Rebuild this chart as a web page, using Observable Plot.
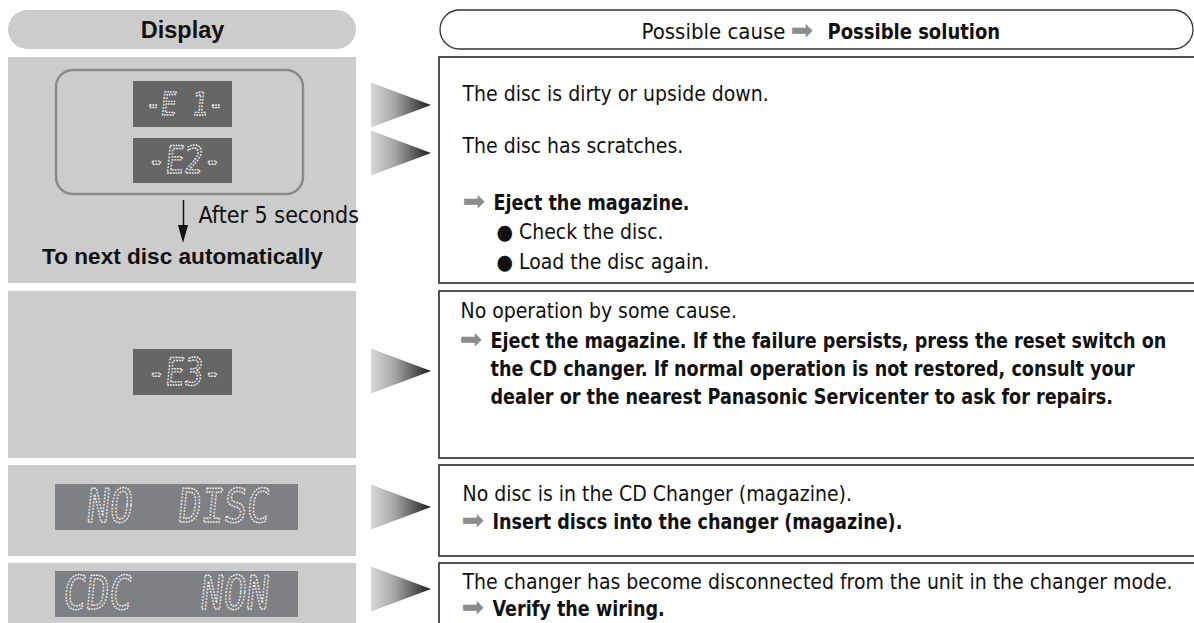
<!DOCTYPE html>
<html><head><meta charset="utf-8">
<script src="https://cdn.jsdelivr.net/npm/d3@7"></script>
<script src="https://cdn.jsdelivr.net/npm/@observablehq/plot@0.6"></script>
<style>html,body{margin:0;padding:0;background:#fff;overflow:hidden}</style>
</head><body><div id="chart"></div>
<script>
// ---------------- data ----------------
const headers = ["Display", "Possible cause", "Possible solution"];
const headerArrow = "➡";
const displays = ["-E 1-", "-E2-", "-E3-", "NO  DISC", "CDC   NON"];
const timerNote = ["After 5 seconds", "To next disc automatically"];
const causes = [
  "The disc is dirty or upside down.",
  "The disc has scratches.",
  "No operation by some cause.",
  "No disc is in the CD Changer (magazine).",
  "The changer has become disconnected from the unit in the changer mode."
];
const solutions = [
  ["Eject the magazine."],
  ["Eject the magazine. If the failure persists, press the reset switch on",
   "the CD changer. If normal operation is not restored, consult your",
   "dealer or the nearest Panasonic Servicenter to ask for repairs."],
  ["Insert discs into the changer (magazine)."],
  ["Verify the wiring."]
];
const checks = ["Check the disc.", "Load the disc again."];

// ---------------- layout ----------------
const W = 1194, H = 623;
const narrow = '"Liberation Sans Narrow", "Arial Narrow", "DejaVu Sans Condensed", sans-serif';
const wide = '"Liberation Sans", Arial, sans-serif';
const rowY = [[57, 283], [291, 458], [465, 556], [563, 630]];
const leftPanels = rowY.map(([y1, y2]) => ({x1: 8, x2: 356, y1, y2}));
const rightBoxes = rowY.map(([y1, y2]) => ({x1: 439, x2: 1200, y1, y2}));
const headerPills = [
  {x1: 8, x2: 356, y1: 10, y2: 49, fill: "#cccccc", stroke: "none"},
  {x1: 440, x2: 1193, y1: 10, y2: 49, fill: "#ffffff", stroke: "#333333"}
];
const lcdLayout = [
  {x1: 133, x2: 232, y1: 81, y2: 127, tx: 184, fs: 26, c: "#666666"},
  {x1: 133, x2: 232, y1: 138, y2: 183, tx: 184, fs: 31, c: "#666666"},
  {x1: 133, x2: 232, y1: 349, y2: 395, tx: 184, fs: 31, c: "#666666"},
  {x1: 55, x2: 298, y1: 484, y2: 530, tx: 178, fs: 38, c: "#7f8084"},
  {x1: 55, x2: 298, y1: 571, y2: 617, tx: 166, fs: 38, c: "#7f8084"}
];
const lcd = displays.map((t, i) => ({text: t, ...lcdLayout[i], ty: (lcdLayout[i].y1 + lcdLayout[i].y2) / 2}));
const arrowCenters = [105, 153, 371, 507, 589];
const triangles = arrowCenters.flatMap((cy, k) => [
  {k, x: 371, y1: cy - 22.5, y2: cy + 22.5},
  {k, x: 431, y1: cy, y2: cy}
]);
const causeLayout = [{x: 462, y: 100}, {x: 462, y: 152}, {x: 460, y: 317}, {x: 462, y: 500}, {x: 462, y: 588}];
const causeTexts = causes.map((text, i) => ({text, ...causeLayout[i]}));
const solLayout = [{x: 493, y: [209]}, {x: 490, y: [347, 375, 403]}, {x: 492, y: [528]}, {x: 492, y: [615]}];
const solTexts = solutions.flatMap((lines, i) => lines.map((text, j) => ({text, x: solLayout[i].x, y: solLayout[i].y[j]})));
const solArrows = solutions.map((l, i) => ({text: headerArrow, x: solLayout[i].x - 31, y: solLayout[i].y[0]}));
const checkTexts = checks.map((t, i) => ({text: "● " + t, x: 496, y: [238, 268][i]}));
const downHead = [{y: 225, x1: 178, x2: 188}, {y: 243, x1: 183, x2: 183}];

const plot = Plot.plot({
  width: W, height: H, margin: 0,
  x: {domain: [0, W], range: [0, W], axis: null},
  y: {domain: [0, H], range: [0, H], axis: null},
  style: {background: "#ffffff", overflow: "visible"},
  marks: [
    // header pills
    Plot.rect(headerPills, {x1: "x1", x2: "x2", y1: "y1", y2: "y2", fill: "fill", stroke: "stroke", strokeWidth: 1.3, rx: 19.5}),
    Plot.text([headers[0]], {x: () => 182, y: () => 37, text: d => d, fontFamily: wide, fontWeight: "bold", fontSize: 23.5, fill: "#111", lineAnchor: "bottom"}),
    Plot.text([headers[1]], {x: () => 785, y: () => 38, text: d => d, fontFamily: narrow, fontSize: 22, fill: "#111", textAnchor: "end", lineAnchor: "bottom"}),
    Plot.text([headerArrow], {x: () => 790, y: () => 38, text: d => d, fontFamily: "DejaVu Sans", fontSize: 27, fill: "#8c8c8c", textAnchor: "start", lineAnchor: "bottom"}),
    Plot.text([headers[2]], {x: () => 827, y: () => 38, text: d => d, fontFamily: narrow, fontWeight: "bold", fontSize: 22, fill: "#111", textAnchor: "start", lineAnchor: "bottom", ariaDescription: "condensed"}),
    // rows
    Plot.rect(leftPanels, {x1: "x1", x2: "x2", y1: "y1", y2: "y2", fill: "#cccccc"}),
    Plot.rect(rightBoxes, {x1: "x1", x2: "x2", y1: "y1", y2: "y2", fill: "#ffffff", stroke: "#2a2a2a", strokeWidth: 1.6}),
    // display frame for E1/E2
    Plot.rect([{x1: 56, x2: 303, y1: 70, y2: 194}], {x1: "x1", x2: "x2", y1: "y1", y2: "y2", fill: "none", stroke: "#8a8a8a", strokeWidth: 2.5, rx: 17}),
    // LCD panels
    Plot.rect(lcd, {x1: "x1", x2: "x2", y1: "y1", y2: "y2", fill: "c"}),
    Plot.text(lcd, {x: "tx", y: "ty", text: "text", fontSize: "fs", fontFamily: '"DejaVu Sans Mono", monospace', fill: "none", stroke: "#f6f6f6", strokeWidth: 1.2, strokeDasharray: "1.5,1.2", ariaDescription: "lcd"}),
    // timer note
    Plot.ruleX([{x: 183, y1: 200, y2: 232}], {x: "x", y1: "y1", y2: "y2", stroke: "#111", strokeWidth: 1.5}),
    Plot.areaX(downHead, {y: "y", x1: "x1", x2: "x2", fill: "#111"}),
    Plot.text([timerNote[0]], {x: () => 198, y: () => 222, text: d => d, fontFamily: narrow, fontSize: 23, fill: "#111", textAnchor: "start", lineAnchor: "bottom"}),
    Plot.text([timerNote[1]], {x: () => 182, y: () => 263, text: d => d, fontFamily: wide, fontWeight: "bold", fontSize: 22.6, fill: "#111", lineAnchor: "bottom"}),
    // gradient arrows
    Plot.areaY(triangles, {x: "x", y1: "y1", y2: "y2", z: "k", fill: "url(#triGrad)"}),
    // right texts
    Plot.text(causeTexts, {x: "x", y: "y", text: "text", fontFamily: narrow, fontSize: 21, fill: "#111", textAnchor: "start", lineAnchor: "bottom"}),
    Plot.text(solArrows, {x: "x", y: "y", text: "text", fontFamily: "DejaVu Sans", fontSize: 27, fill: "#8c8c8c", textAnchor: "start", lineAnchor: "bottom"}),
    Plot.text(solTexts, {x: "x", y: "y", text: "text", fontFamily: narrow, fontWeight: "bold", fontSize: 21.5, fill: "#111", textAnchor: "start", lineAnchor: "bottom", ariaDescription: "condensed"}),
    Plot.text(checkTexts, {x: "x", y: "y", text: "text", fontFamily: narrow, fontSize: 21, fill: "#111", textAnchor: "start", lineAnchor: "bottom"})
  ]
});

const svg = d3.select(plot);
svg.insert("defs", ":first-child").html(
  '<linearGradient id="triGrad" x1="0" x2="1" y1="0" y2="0">' +
  '<stop offset="0" stop-color="#d8d8d8"/><stop offset="0.4" stop-color="#a5a5a5"/><stop offset="1" stop-color="#1c1c1c"/></linearGradient>');
function reshape(label, extra) {
  svg.selectAll(`g[aria-description="${label}"] text`).each(function () {
    const el = d3.select(this);
    const t = el.attr("transform") || "";
    let move = "";
    const xs = el.attr("x"), ys = el.attr("y");
    if (xs != null && !isNaN(+xs)) { move += ` translate(${+xs},0)`; el.attr("x", null); }
    if (ys != null && !isNaN(+ys)) { move += ` translate(0,${+ys})`; el.attr("y", null); }
    el.attr("transform", `${t}${move} ${extra}`);
  });
}
reshape("lcd", "scale(1,1.22) skewX(-7)");   // slanted, taller LCD glyphs
reshape("condensed", "scale(0.91,1)");       // narrower bold type
document.getElementById("chart").appendChild(plot);
</script>
</body></html>
